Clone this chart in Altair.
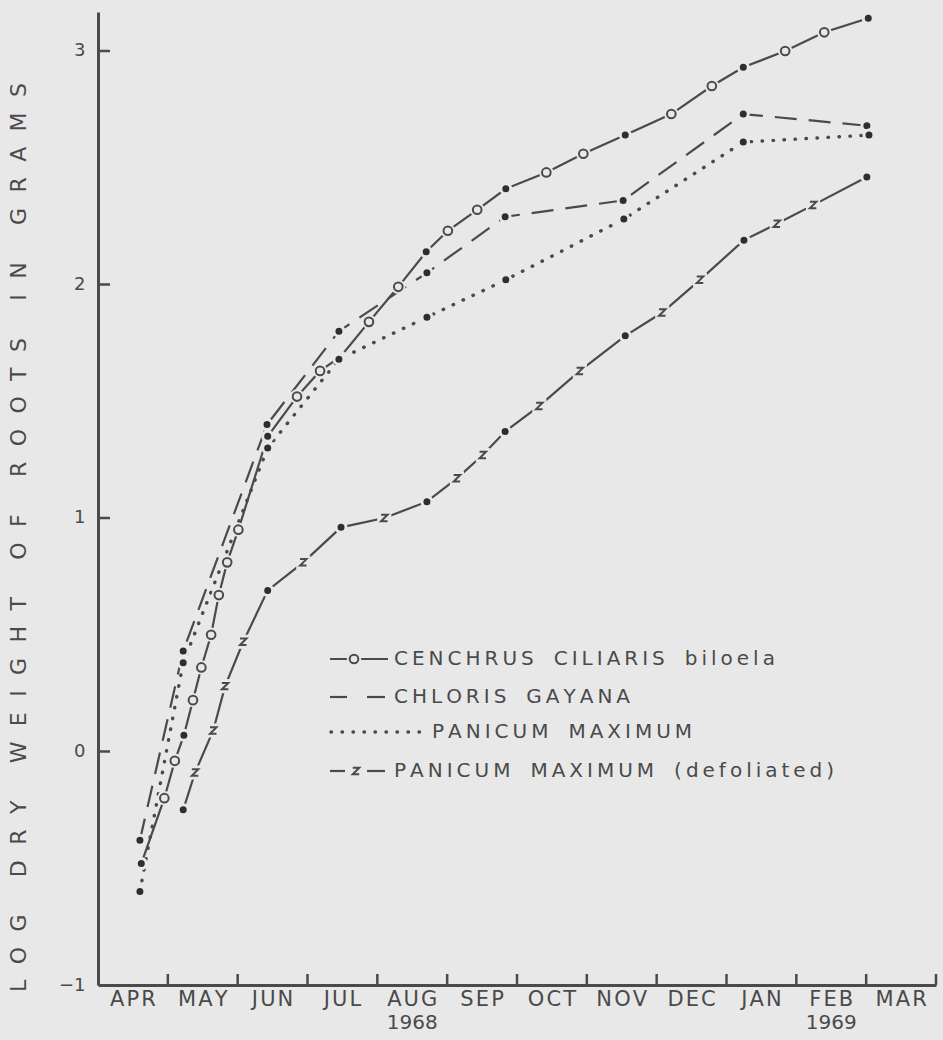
import altair as alt
import pandas as pd

# Root growth of three tropical grasses, April 1968 - March 1969.
# Time is in months elapsed since 1 April 1968; values are log10 of root dry weight (g).

MONTHS = ["APR", "MAY", "JUN", "JUL", "AUG", "SEP", "OCT", "NOV", "DEC", "JAN", "FEB", "MAR"]
YEARS = ["1968", "1969"]
YEAR_MONTH = [4.5, 10.5]
Y_TICKS = [-1, 0, 1, 2, 3]

# Cenchrus ciliaris cv. Biloela: main harvests and the interim samplings
CENCHRUS_HARVEST_M = [0.62, 1.23, 2.43, 3.47, 4.70, 5.84, 7.55, 9.24, 11.03]
CENCHRUS_HARVEST_LOG = [-0.48, 0.07, 1.35, 1.69, 2.14, 2.41, 2.64, 2.93, 3.14]
CENCHRUS_INTERIM_M = [0.95, 1.10, 1.36, 1.48, 1.62, 1.73, 1.85, 2.01, 2.85, 3.18,
                      3.88, 4.30, 5.01, 5.43, 6.42, 6.95, 8.21, 8.79, 9.84, 10.40]
CENCHRUS_INTERIM_LOG = [-0.20, -0.04, 0.22, 0.36, 0.50, 0.67, 0.81, 0.95, 1.52, 1.63,
                        1.84, 1.99, 2.23, 2.32, 2.48, 2.56, 2.73, 2.85, 3.00, 3.08]

# Chloris gayana
CHLORIS_M = [0.60, 1.22, 2.42, 3.45, 4.71, 5.83, 7.52, 9.24, 11.01]
CHLORIS_LOG = [-0.38, 0.43, 1.40, 1.80, 2.05, 2.29, 2.36, 2.73, 2.68]

# Panicum maximum
PANICUM_M = [0.60, 1.22, 2.43, 3.45, 4.71, 5.84, 7.53, 9.24, 11.04]
PANICUM_LOG = [-0.60, 0.38, 1.30, 1.68, 1.86, 2.02, 2.28, 2.61, 2.64]

# Panicum maximum, defoliated
DEFOL_HARVEST_M = [1.22, 2.43, 3.48, 4.71, 5.83, 7.55, 9.25, 11.01]
DEFOL_HARVEST_LOG = [-0.25, 0.69, 0.96, 1.07, 1.37, 1.78, 2.19, 2.46]
DEFOL_INTERIM_M = [1.39, 1.65, 1.82, 2.08, 2.94, 4.10, 5.14, 5.51, 6.32, 6.90,
                   8.08, 8.62, 9.72, 10.24]
DEFOL_INTERIM_LOG = [-0.09, 0.09, 0.28, 0.47, 0.81, 1.00, 1.17, 1.27, 1.48, 1.63,
                     1.88, 2.02, 2.26, 2.34]

BG = "#e8e8e8"
INK = "#4a4a4a"
DOT = "#2e2e2e"
FONT = "DejaVu Sans"
W, H = 838, 973
Z_PATH = "M -1 -1 L 1 -1 L -1 1 L 1 1"


def spread(text, gap="\u2009", word="\u2002\u2002"):
    return word.join(gap.join(w) for w in text.split(" "))


def frame(m, v):
    return pd.DataFrame({"m": m, "v": v})


def joined(m1, v1, m2, v2):
    return frame(list(m1) + list(m2), list(v1) + list(v2)).sort_values("m")


x_axis = alt.Axis(labels=False, ticks=False, grid=False, title=None,
                  domainColor=INK, domainWidth=3)
y_axis = alt.Axis(values=Y_TICKS, tickSize=0, grid=False, labelFont=FONT,
                  labelFontSize=18, labelColor=INK, labelPadding=13,
                  domainColor=INK, domainWidth=3,
                  title=spread("LOG DRY WEIGHT OF ROOTS IN GRAMS",
                               gap="\u2002\u2009", word="\u2003\u2002\u2009"),
                  titleFont=FONT, titleFontSize=22, titleFontWeight="normal",
                  titleColor=INK, titleAngle=270, titleAlign="center",
                  titleBaseline="middle", titleX=-80, titleY=525)

X = alt.X("m:Q", scale=alt.Scale(domain=[0, 12], nice=False, zero=False), axis=x_axis)
Y = alt.Y("v:Q", scale=alt.Scale(domain=[-1, 3.167], nice=False, zero=False), axis=y_axis)

cen_all = joined(CENCHRUS_HARVEST_M, CENCHRUS_HARVEST_LOG, CENCHRUS_INTERIM_M, CENCHRUS_INTERIM_LOG)
def_all = joined(DEFOL_HARVEST_M, DEFOL_HARVEST_LOG, DEFOL_INTERIM_M, DEFOL_INTERIM_LOG)
chl = frame(CHLORIS_M, CHLORIS_LOG)
pan = frame(PANICUM_M, PANICUM_LOG)

DOTTED = {"strokeDash": [0.5, 10.5], "strokeCap": "round", "strokeWidth": 3.4}


def line(df, **kw):
    style = {"color": INK, "strokeWidth": 2.2}
    style.update(kw)
    return alt.Chart(df).mark_line(**style).encode(x=X, y=Y, order="m:Q")


lines = [
    line(cen_all),
    line(chl, strokeDash=[22, 12]),
    line(pan, **DOTTED),
    line(def_all),
]


def dots(df):
    return alt.Chart(df).mark_point(filled=True, shape="circle", size=100, fill=DOT,
                                    stroke=BG, strokeWidth=3, opacity=1).encode(x=X, y=Y)


def rings(df):
    halo = alt.Chart(df).mark_point(filled=True, shape="circle", size=210, fill=BG,
                                    opacity=1).encode(x=X, y=Y)
    ring = alt.Chart(df).mark_point(shape="circle", size=75, fill=BG, filled=False,
                                    stroke=INK, strokeWidth=2, opacity=1).encode(x=X, y=Y)
    return [halo, ring]


def zeds(df):
    halo = alt.Chart(df).mark_point(filled=True, shape="square", size=200, fill=BG,
                                    opacity=1).encode(x=X, y=Y)
    z = alt.Chart(df).mark_point(shape=Z_PATH, size=42, filled=False, stroke=INK,
                                 strokeWidth=2, opacity=1).encode(x=X, y=Y)
    return [halo, z]


markers = (
    rings(frame(CENCHRUS_INTERIM_M, CENCHRUS_INTERIM_LOG))
    + zeds(frame(DEFOL_INTERIM_M, DEFOL_INTERIM_LOG))
    + [dots(frame(CENCHRUS_HARVEST_M, CENCHRUS_HARVEST_LOG)), dots(chl), dots(pan),
       dots(frame(DEFOL_HARVEST_M, DEFOL_HARVEST_LOG))]
)

# inward tick marks on both axes
y_ticks = alt.Chart(pd.DataFrame({"v": Y_TICKS[1:]})).mark_rule(
    color=INK, strokeWidth=2.5).encode(y=Y, x=alt.value(0), x2=alt.value(12))
x_ticks = alt.Chart(pd.DataFrame({"m": list(range(1, 13))})).mark_rule(
    color=INK, strokeWidth=2.5).encode(x=X, y=alt.value(H), y2=alt.value(H - 11))

month_labels = alt.Chart(pd.DataFrame({
    "m": [i + 0.5 for i in range(12)], "t": [spread(s, gap="\u200a") for s in MONTHS]})
).mark_text(font=FONT, fontSize=21, color=INK, baseline="middle").encode(
    x=X, y=alt.value(988), text="t:N")
year_labels = alt.Chart(pd.DataFrame({"m": YEAR_MONTH, "t": YEARS})).mark_text(
    font=FONT, fontSize=20, color=INK, baseline="middle").encode(
    x=X, y=alt.value(1011), text="t:N")

# hand-drawn key
one = pd.DataFrame({"k": [0]})


def key_rule(x1, x2, y, **kw):
    style = {"color": INK, "strokeWidth": 2.2}
    style.update(kw)
    return alt.Chart(one).mark_rule(**style).encode(
        x=alt.value(x1), x2=alt.value(x2), y=alt.value(y))


def key_text(x, y, text):
    return alt.Chart(one).mark_text(font=FONT, fontSize=20, color=INK, align="left",
                                    baseline="middle").encode(
        x=alt.value(x), y=alt.value(y), text=alt.value(text))


key = [
    key_rule(232, 290, 647),
    alt.Chart(one).mark_point(shape="circle", size=210, fill=BG, filled=True,
                              opacity=1).encode(x=alt.value(256), y=alt.value(647)),
    alt.Chart(one).mark_point(shape="circle", size=75, fill=BG, filled=False, stroke=INK,
                              strokeWidth=2, opacity=1).encode(
        x=alt.value(256), y=alt.value(647)),
    key_text(296, 647, spread("CENCHRUS CILIARIS biloela")),
    key_rule(232, 249, 685),
    key_rule(269, 287, 685),
    key_text(296, 685, spread("CHLORIS GAYANA")),
    key_rule(233, 328, 720, **DOTTED),
    key_text(334, 720, spread("PANICUM MAXIMUM")),
    key_rule(232, 247, 759),
    key_rule(269, 287, 759),
    alt.Chart(one).mark_point(shape=Z_PATH, size=42, filled=False, stroke=INK,
                              strokeWidth=2, opacity=1).encode(
        x=alt.value(258), y=alt.value(759)),
    key_text(296, 759, spread("PANICUM MAXIMUM (defoliated)")),
]

chart = alt.layer(
    *lines, *markers, y_ticks, x_ticks, month_labels, year_labels, *key
).properties(
    width=W, height=H, autosize="none", background=BG,
    padding={"left": 98, "top": 12, "right": 7, "bottom": 55},
).configure_view(stroke=None)

chart.save("out.html", embed_options={"renderer": "svg", "actions": False})
